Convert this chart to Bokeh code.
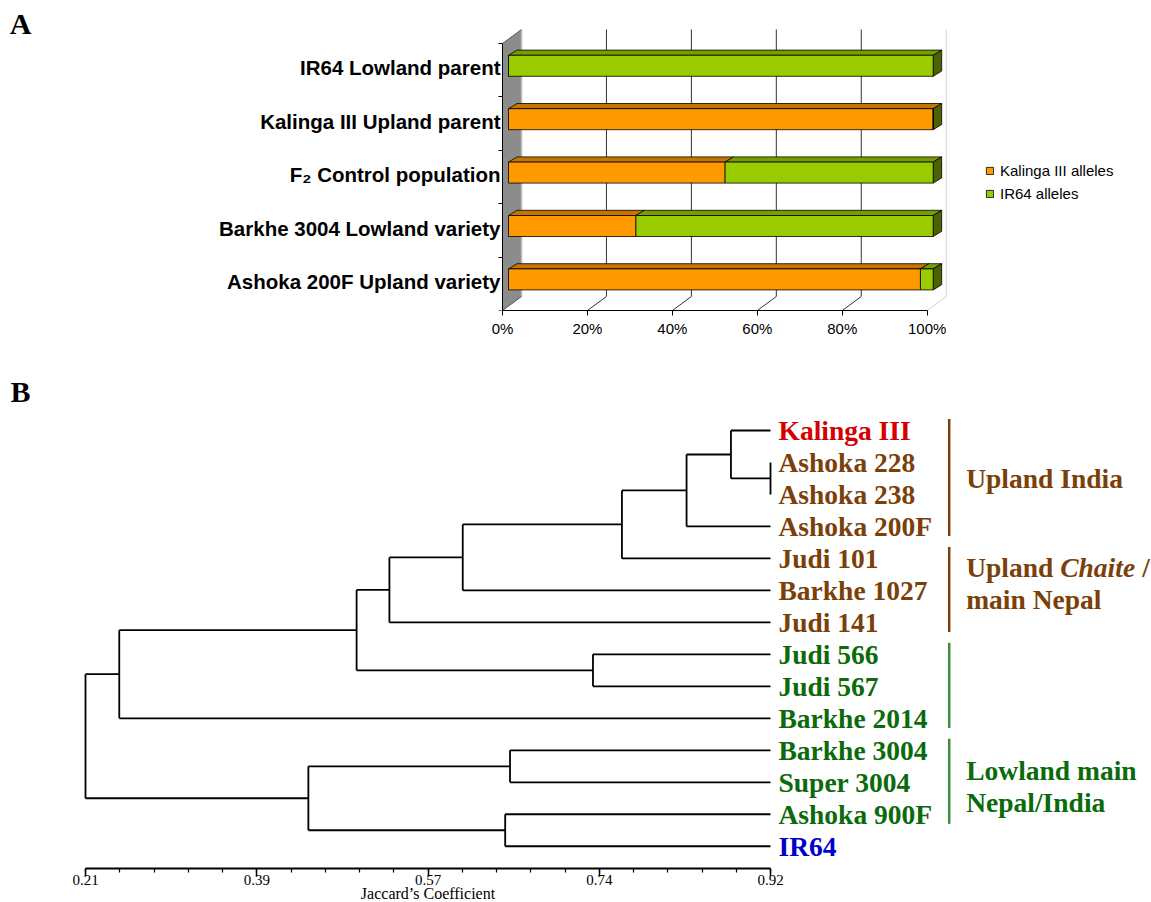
from bokeh.plotting import figure
from bokeh.models import (Range1d, FixedTicker, LinearAxis, Legend, LegendItem,
                          ColumnDataSource)
from bokeh.layouts import column
from bokeh.embed import file_html
from bokeh.resources import INLINE
from bokeh.core.properties import value

# ---------------- data: panel A (allele composition, %) ----------------
categories = ["IR64 Lowland parent", "Kalinga III Upland parent", "F\u2082 Control population",
              "Barkhe 3004 Lowland variety", "Ashoka 200F Upland variety"]
kalinga_alleles = [0, 100, 51, 30, 97]
ir64_alleles = [100, 0, 49, 70, 3]
series_names = ["Kalinga III alleles", "IR64 alleles"]
pct_ticks = [0, 20, 40, 60, 80, 100]
pct_labels = ["0%", "20%", "40%", "60%", "80%", "100%"]

# ---------------- data: panel B (UPGMA dendrogram, Jaccard) ----------------
leaves = ["Kalinga III", "Ashoka 228", "Ashoka 238", "Ashoka 200F", "Judi 101", "Barkhe 1027",
          "Judi 141", "Judi 566", "Judi 567", "Barkhe 2014", "Barkhe 3004", "Super 3004",
          "Ashoka 900F", "IR64"]
leaf_class = ["upland_parent", "upland", "upland", "upland", "upland", "upland", "upland",
              "lowland", "lowland", "lowland", "lowland", "lowland", "lowland", "lowland_parent"]
# merges (new cluster ids start at len(leaves))
merge_a = [1, 0, 15, 16, 17, 18, 7, 19, 21, 10, 12, 23, 22]
merge_b = [2, 14, 3, 4, 5, 6, 8, 20, 9, 11, 13, 24, 25]
merge_sim = [0.920, 0.879, 0.833, 0.766, 0.601, 0.525, 0.736, 0.491, 0.245, 0.650, 0.645, 0.441, 0.210]
leaf_sim = 0.92
jaccard_ticks = [0.21, 0.3875, 0.565, 0.7425, 0.92]
jaccard_labels = ["0.21", "0.39", "0.57", "0.74", "0.92"]
axis_title_b = "Jaccard\u2019s Coefficient"
group_first = [0, 4, 7, 10]
group_last = [3, 6, 9, 12]
group_class = ["upland", "upland", "lowland", "lowland"]
group_text = [["Upland India"], ["Upland *Chaite* /", "main Nepal"], [], ["Lowland main", "Nepal/India"]]

# ---------------- styles ----------------
ORANGE, ORANGE_TOP = "#FF9900", "#C47600"
GREEN, GREEN_TOP, GREEN_SIDE = "#99CC00", "#779E00", "#4D6100"
TEXT_COL = {"upland_parent": "#D40000", "upland": "#7B3F0A", "lowland": "#0B6B0B",
            "lowland_parent": "#0000CC"}
BRACKET_COL = {"upland": "#7B3F0A", "lowland": "#3C8C3C"}
GROUP_SHIFT = [0.0, -0.22, 0.0, 0.14]
SANS = "Liberation Sans"
SERIF = "Liberation Serif"
PAGE_W = 1151

# ================= Panel A =================
FA_W, FA_H = PAGE_W, 350
A_BOT = 40
PX_PCT = 4.247
PX_ROW = 53.4
ORIGIN_A_X = 502            # page x of 0 %
AXIS_A_Y = FA_H - A_BOT     # page y of the floor front edge
XA0 = -ORIGIN_A_X / PX_PCT
XA1 = XA0 + FA_W / PX_PCT
YA1 = AXIS_A_Y / PX_ROW


def dxa(px):
    return px / PX_PCT


def dya(px):
    return px / PX_ROW


fa = figure(width=FA_W, height=FA_H, x_range=Range1d(XA0, XA1), y_range=Range1d(0, YA1),
            output_backend="svg", toolbar_location=None, x_axis_type=None, y_axis_type=None,
            min_border_left=0, min_border_right=0, min_border_top=0, min_border_bottom=A_BOT)
fa.outline_line_color = None
fa.background_fill_color = "white"

n_cat = len(categories)
WX, WY = dxa(19), dya(14)
# floor
fa.patch([0, 100, 100 + WX, WX], [0, 0, WY, WY], fill_color="white", line_color=None)
# back grid lines and floor diagonals
grid_cols = ["#333333"] * (len(pct_ticks) - 2) + ["#D0D0D0"]
gx = [t + WX for t in pct_ticks[1:]]
fa.segment(x0=gx, y0=[WY] * len(gx), x1=gx, y1=[n_cat + WY] * len(gx), line_color=grid_cols,
           line_width=1)
fa.segment(x0=pct_ticks[1:], y0=[0] * len(gx), x1=gx, y1=[WY] * len(gx), line_color=grid_cols,
           line_width=1)
# side wall
fa.patch([0, 0, WX, WX], [0, n_cat, n_cat + WY, WY], fill_color="#8C8C8C", line_color="#555555",
         line_width=1)
fa.segment(x0=[WX], y0=[WY], x1=[WX], y1=[n_cat + WY], line_color="#B8B8B8", line_width=1.5)

# bars
FX, FY = dxa(6), dya(4.4)
BX, BY = dxa(8.5), dya(5.2)
BH = dya(21)
yc = [(n_cat - 1 - i) + 0.5 + FY for i in range(n_cat)]
ka_l = [FX] * n_cat
ka_r = [FX + k for k in kalinga_alleles]
ir_l = ka_r
ir_r = [FX + k + g for k, g in zip(kalinga_alleles, ir64_alleles)]


def top_faces(lefts, rights):
    xs, ys = [], []
    for l, r, c in zip(lefts, rights, yc):
        if r - l <= 0:
            continue
        t = c + BH / 2
        xs.append([l, r, r + BX, l + BX])
        ys.append([t, t, t + BY, t + BY])
    return xs, ys


txs, tys = top_faces(ka_l, ka_r)
fa.patches(txs, tys, fill_color=ORANGE_TOP, line_color="black", line_width=0.8)
txs, tys = top_faces(ir_l, ir_r)
fa.patches(txs, tys, fill_color=GREEN_TOP, line_color="black", line_width=0.8)
sxs = [[r, r, r + BX, r + BX] for r in ir_r]
sys_ = [[c - BH / 2, c + BH / 2, c + BH / 2 + BY, c - BH / 2 + BY] for c in yc]
fa.patches(sxs, sys_, fill_color=GREEN_SIDE, line_color="black", line_width=0.8)

src_ka = ColumnDataSource(dict(y=yc, left=ka_l, right=ka_r))
src_ir = ColumnDataSource(dict(y=yc, left=ir_l, right=ir_r))
r_ka = fa.hbar(y="y", left="left", right="right", height=BH, source=src_ka, fill_color=ORANGE,
               line_color="black", line_width=0.8)
r_ir = fa.hbar(y="y", left="left", right="right", height=BH, source=src_ir, fill_color=GREEN,
               line_color="black", line_width=0.8)

# axes
xa = LinearAxis(bounds=(0, 100), ticker=FixedTicker(ticks=pct_ticks, minor_ticks=[]),
                major_label_overrides=dict(zip(pct_ticks, pct_labels)))
xa.axis_line_color = "black"
xa.major_tick_out = 5
xa.major_tick_in = 0
xa.major_label_standoff = 4
xa.major_label_text_font = SANS
xa.major_label_text_font_size = "15px"
xa.major_label_text_color = "black"
fa.add_layout(xa, "below")

cat_pos = [(n_cat - 1 - i) + 0.5 + FY - dya(2) for i in range(n_cat)]
ya = LinearAxis(bounds=(0, n_cat), fixed_location=0,
                ticker=FixedTicker(ticks=cat_pos, minor_ticks=list(range(n_cat + 1))),
                major_label_overrides=dict(zip(cat_pos, categories)))
ya.axis_line_color = "black"
ya.major_tick_line_color = None
ya.major_tick_out = 0
ya.major_tick_in = 0
ya.minor_tick_out = 4
ya.minor_tick_in = 0
ya.minor_tick_line_color = "black"
ya.major_label_standoff = -2
ya.major_label_text_font = SANS
ya.major_label_text_font_style = "bold"
ya.major_label_text_font_size = "20.5px"
ya.major_label_text_color = "black"
fa.add_layout(ya, "left")

legend = Legend(items=[LegendItem(label=series_names[0], renderers=[r_ka]),
                       LegendItem(label=series_names[1], renderers=[r_ir])],
                location=(985, AXIS_A_Y - 203.7),
                orientation="vertical", glyph_width=9, glyph_height=9,
                label_standoff=6, spacing=3, padding=0, margin=0, label_height=20,
                border_line_color=None, background_fill_alpha=0,
                label_text_font=SANS, label_text_font_size="15px", label_text_color="black")
fa.add_layout(legend)

fa.text(x=[XA0 + dxa(9.3)], y=[YA1 - dya(22.5)], text=["A"], text_font=value(SERIF),
        text_font_style="bold", text_font_size="30px", text_baseline="middle")

# ================= Panel B =================
FB_W, FB_H = PAGE_W, 552
PX_SIM = 964.8
PX_LEAF = 31.98
LEAF0_Y = 430
AXIS_B_Y = 868
XB0 = 0.21 - 85 / PX_SIM
XB1 = XB0 + FB_W / PX_SIM
YB_TOP = (FA_H - LEAF0_Y) / PX_LEAF
YB_BOT = YB_TOP + FB_H / PX_LEAF


def yb(page_y):
    return (page_y - LEAF0_Y) / PX_LEAF


fb = figure(width=FB_W, height=FB_H, x_range=Range1d(XB0, XB1), y_range=Range1d(YB_BOT, YB_TOP),
            output_backend="svg", toolbar_location=None, x_axis_type=None, y_axis_type=None,
            min_border_left=0, min_border_right=0, min_border_top=0, min_border_bottom=0)
fb.outline_line_color = None

n_leaf = len(leaves)
node_x = [leaf_sim] * n_leaf
node_y = [float(i) for i in range(n_leaf)]
x0s, y0s, x1s, y1s = [], [], [], []
for a, b, s in zip(merge_a, merge_b, merge_sim):
    ya_, yb_ = node_y[a], node_y[b]
    x0s += [s, s, s]
    y0s += [ya_, ya_, yb_]
    x1s += [s, node_x[a], node_x[b]]
    y1s += [yb_, ya_, yb_]
    node_x.append(s)
    node_y.append((ya_ + yb_) / 2)
fb.segment(x0=x0s, y0=y0s, x1=x1s, y1=y1s, line_color="black", line_width=1.8)

fb.text(x=[leaf_sim] * n_leaf, y=list(range(n_leaf)), text=leaves, x_offset=8,
        text_color=[TEXT_COL[c] for c in leaf_class], text_font=value(SERIF),
        text_font_style="bold", text_font_size="27.5px", text_baseline="middle", text_align="left")

BRACKET_X = leaf_sim + 178.7 / PX_SIM
fb.segment(x0=[BRACKET_X] * len(group_first), y0=[f - 0.36 for f in group_first],
           x1=[BRACKET_X] * len(group_first), y1=[l + 0.3 for l in group_last],
           line_color=[BRACKET_COL[c] for c in group_class], line_width=2.5)

# group labels (segments between * are italic)
SEG_OFFSETS = {"Upland *Chaite* /": [0, 94, 176]}
for g, lines in enumerate(group_text):
    mid = (group_first[g] + group_last[g]) / 2 + GROUP_SHIFT[g]
    for j, line in enumerate(lines):
        yy = mid + (j - (len(lines) - 1) / 2) * 1.01
        parts = [p.strip() for p in line.split("*")]
        offs = SEG_OFFSETS.get(line, [0])
        for k, part in enumerate(parts):
            if not part:
                continue
            fb.text(x=[BRACKET_X], y=[yy], text=[part], x_offset=17 + offs[k],
                    text_color=TEXT_COL[group_class[g]], text_font=value(SERIF),
                    text_font_style="bold italic" if k % 2 == 1 else "bold",
                    text_font_size="27.5px", text_baseline="middle", text_align="left")

minor = [0.21 + k * 0.0355 for k in range(21)]
xb = LinearAxis(bounds=(0.21, 0.92), fixed_location=yb(AXIS_B_Y),
                ticker=FixedTicker(ticks=jaccard_ticks, minor_ticks=minor),
                major_label_overrides=dict(zip(jaccard_ticks, jaccard_labels)))
xb.axis_line_width = 1.8
xb.major_tick_line_width = 1.5
xb.minor_tick_line_width = 1.2
xb.major_tick_out = 8
xb.major_tick_in = 0
xb.minor_tick_out = 4
xb.minor_tick_in = 0
xb.major_label_standoff = -2
xb.major_label_text_font = SERIF
xb.major_label_text_font_size = "15px"
xb.major_label_text_color = "black"
fb.add_layout(xb, "below")

fb.text(x=[(jaccard_ticks[0] + jaccard_ticks[-1]) / 2], y=[yb(892.5)], text=[axis_title_b],
        text_font=value(SERIF), text_font_size="16px", text_baseline="middle",
        text_align="center", text_color="black")

fb.text(x=[XB0 + 10 / PX_SIM], y=[yb(391)], text=["B"], text_font=value(SERIF),
        text_font_style="bold", text_font_size="30px", text_baseline="middle")

layout = column(fa, fb, spacing=0)
open("out.html", "w").write(file_html(layout, INLINE))
